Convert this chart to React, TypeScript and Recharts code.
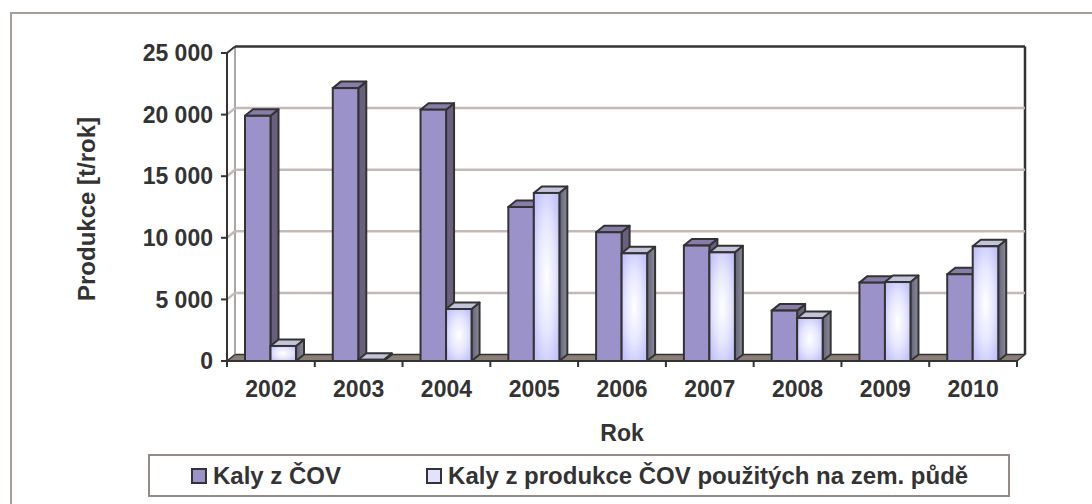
import React from 'react';
import { BarChart, Bar, XAxis, YAxis, CartesianGrid, Label } from 'recharts';

const years = ['2002', '2003', '2004', '2005', '2006', '2007', '2008', '2009', '2010'];
const kalyCOV = [19900, 22150, 20400, 12500, 10450, 9370, 4090, 6360, 7040];
const kalyPuda = [1220, 100, 4220, 13640, 8740, 8820, 3490, 6410, 9310];
const yTicks = [0, 5000, 10000, 15000, 20000, 25000];
const seriesNames = ['Kaly z ČOV', 'Kaly z produkce ČOV použitých na zem. půdě'];
const axisTitles = { x: 'Rok', y: 'Produkce [t/rok]' };

const data = years.map((year, i) => ({ year, cov: kalyCOV[i], puda: kalyPuda[i] }));

const DX = 8;
const DY = -6.5;
const EDGE = '#333333';
const GRID = '#c5b9b5';
const FLOOR = '#8b7e79';
const TEXT = '#333333';
const FONT = '"Liberation Sans", Arial, sans-serif';

const fmt = (v: number) => (v === 0 ? '0' : `${Math.round(v / 1000)} 000`);

const makeBar = (front: string, top: string, side: string) => (props: any) => {
  const { x, y, width, height } = props;
  if (x == null || y == null || !width) return <g />;
  const h = Math.max(height || 0, 0);
  const x2 = x + width;
  const yb = y + h;
  return (
    <g>
      <polygon
        points={`${x2},${y} ${x2 + DX},${y + DY} ${x2 + DX},${yb + DY} ${x2},${yb}`}
        fill={side}
        stroke={EDGE}
        strokeWidth={2}
        strokeLinejoin="round"
      />
      <polygon
        points={`${x},${y} ${x + DX},${y + DY} ${x2 + DX},${y + DY} ${x2},${y}`}
        fill={top}
        stroke={EDGE}
        strokeWidth={2}
        strokeLinejoin="round"
      />
      <rect x={x} y={y} width={width} height={h} fill={front} stroke={EDGE} strokeWidth={2} />
    </g>
  );
};

const PurpleBar = makeBar('#9a92c9', '#887ca9', '#6b5f7e');
const LightBar = makeBar('url(#lightFront)', '#c3c3da', 'url(#lightSide)');

const gridLine = (props: any) => {
  const { x1, x2, y1, index } = props;
  const pts: number[] = props.horizontalPoints || [];
  const top = props.y != null ? props.y : Math.min(...pts);
  const bottom = props.y != null && props.height != null ? props.y + props.height : Math.max(...pts);
  const interior = y1 > top + 0.5 && y1 < bottom - 0.5;
  return (
    <g key={`gl-${index}`}>
      {interior && (
        <g>
          <line x1={x1 + DX} y1={y1 + DY} x2={x2 + DX} y2={y1 + DY} stroke={GRID} strokeWidth={2.5} />
          <line x1={x1} y1={y1} x2={x1 + DX} y2={y1 + DY} stroke={GRID} strokeWidth={2.5} />
        </g>
      )}
      {index === 0 && (
        <g>
          <polygon
            points={`${x1},${bottom} ${x2},${bottom} ${x2 + DX},${bottom + DY} ${x1 + DX},${bottom + DY}`}
            fill={FLOOR}
            stroke={EDGE}
            strokeWidth={1.5}
            strokeLinejoin="round"
          />
          <line x1={x1 + DX} y1={top + DY} x2={x1 + DX} y2={bottom + DY} stroke="#8a8a8a" strokeWidth={1.5} />
          <line x1={x1 + DX} y1={top + DY} x2={x2 + DX} y2={top + DY} stroke={EDGE} strokeWidth={2.5} />
          <line x1={x2 + DX} y1={top + DY} x2={x2 + DX} y2={bottom + DY} stroke={EDGE} strokeWidth={2.5} />
          <line x1={x1} y1={top} x2={x1 + DX} y2={top + DY} stroke={EDGE} strokeWidth={2} />
        </g>
      )}
    </g>
  );
};

const XTick = (props: any) => {
  const { x, y, payload, width, visibleTicksCount, index } = props;
  const half = payload && payload.offset ? payload.offset : width / (visibleTicksCount || years.length) / 2;
  const last = index === (visibleTicksCount || years.length) - 1;
  return (
    <g>
      <line x1={x - half} y1={y} x2={x - half} y2={y + 6} stroke={EDGE} strokeWidth={2} />
      {last && <line x1={x + half} y1={y} x2={x + half} y2={y + 6} stroke={EDGE} strokeWidth={2} />}
      <text x={x} y={y + 36} textAnchor="middle" fill={TEXT} fontSize={23} fontWeight={700} fontFamily={FONT}>
        {payload.value}
      </text>
    </g>
  );
};

const LegendMarker = ({ bg }: { bg: string }) => (
  <span
    style={{
      display: 'inline-block',
      width: 16,
      height: 16,
      boxSizing: 'border-box',
      border: `2px solid ${EDGE}`,
      background: bg,
    }}
  />
);

export default function App() {
  return (
    <div
      style={{
        position: 'absolute',
        left: 0,
        top: 0,
        width: 1092,
        height: 504,
        background: '#fff',
        overflow: 'hidden',
        fontFamily: FONT,
      }}
    >
      <div
        style={{
          position: 'absolute',
          left: 10,
          top: 11.5,
          width: 1200,
          height: 600,
          border: '2.5px solid #a69d99',
        }}
      />
      <div style={{ position: 'absolute', left: 0, top: 0 }}>
        <BarChart
          width={1092}
          height={504}
          data={data}
          margin={{ top: 53, right: 75, bottom: 113, left: 127 }}
          barGap={0}
          barSize={25.5}
        >
          <defs>
            <radialGradient id="lightFront" cx="50%" cy="50%" r="60%">
              <stop offset="0%" stopColor="#ffffff" />
              <stop offset="55%" stopColor="#e6e6ff" />
              <stop offset="100%" stopColor="#c4c4fb" />
            </radialGradient>
            <linearGradient id="lightSide" x1="0" y1="0" x2="1" y2="0">
              <stop offset="0%" stopColor="#62627c" />
              <stop offset="100%" stopColor="#8c8c94" />
            </linearGradient>
          </defs>
          <CartesianGrid vertical={false} horizontal={gridLine} fill="none" />
          <XAxis
            dataKey="year"
            height={30}
            interval={0}
            tickSize={0}
            tickMargin={0}
            tickLine={false}
            axisLine={{ stroke: EDGE, strokeWidth: 2 }}
            tick={<XTick />}
          >
            <Label
              content={(p: any) => {
                const vb = p.viewBox || { x: 227, y: 361, width: 790 };
                return (
                  <text
                    x={vb.x + vb.width / 2}
                    y={vb.y + 80}
                    textAnchor="middle"
                    fill={TEXT}
                    fontSize={23}
                    fontWeight={700}
                    fontFamily={FONT}
                  >
                    {axisTitles.x}
                  </text>
                );
              }}
            />
          </XAxis>
          <YAxis
            width={100}
            domain={[0, 25000]}
            ticks={yTicks}
            interval={0}
            tickFormatter={fmt}
            tickSize={6}
            tickMargin={8}
            tickLine={{ stroke: EDGE, strokeWidth: 2 }}
            axisLine={{ stroke: EDGE, strokeWidth: 2 }}
            tick={{ fill: TEXT, fontSize: 23, fontWeight: 700, fontFamily: FONT }}
          >
            <Label
              content={(p: any) => {
                const vb = p.viewBox || { x: 127, y: 53, height: 308 };
                const cx = vb.x - 32;
                const cy = vb.y + vb.height / 2 + 2;
                return (
                  <text
                    x={cx}
                    y={cy}
                    transform={`rotate(-90, ${cx}, ${cy})`}
                    textAnchor="middle"
                    fill={TEXT}
                    fontSize={24}
                    fontWeight={700}
                    fontFamily={FONT}
                  >
                    {axisTitles.y}
                  </text>
                );
              }}
            />
          </YAxis>
          <Bar dataKey="cov" name={seriesNames[0]} shape={PurpleBar} isAnimationActive={false} />
          <Bar dataKey="puda" name={seriesNames[1]} shape={LightBar} isAnimationActive={false} />
        </BarChart>
      </div>
      <div
        style={{
          position: 'absolute',
          left: 148,
          top: 454,
          width: 862,
          height: 43,
          boxSizing: 'border-box',
          border: '2.5px solid #948a86',
          background: '#fff',
          display: 'flex',
          alignItems: 'center',
          paddingLeft: 41,
          color: TEXT,
          fontSize: 24,
          fontWeight: 700,
          whiteSpace: 'nowrap',
        }}
      >
        <LegendMarker bg="#9a92c9" />
        <span style={{ marginLeft: 6 }}>{seriesNames[0]}</span>
        <span style={{ marginLeft: 85, display: 'inline-flex', alignItems: 'center' }}>
          <LegendMarker bg="#e2e2ff" />
          <span style={{ marginLeft: 6 }}>{seriesNames[1]}</span>
        </span>
      </div>
    </div>
  );
}
